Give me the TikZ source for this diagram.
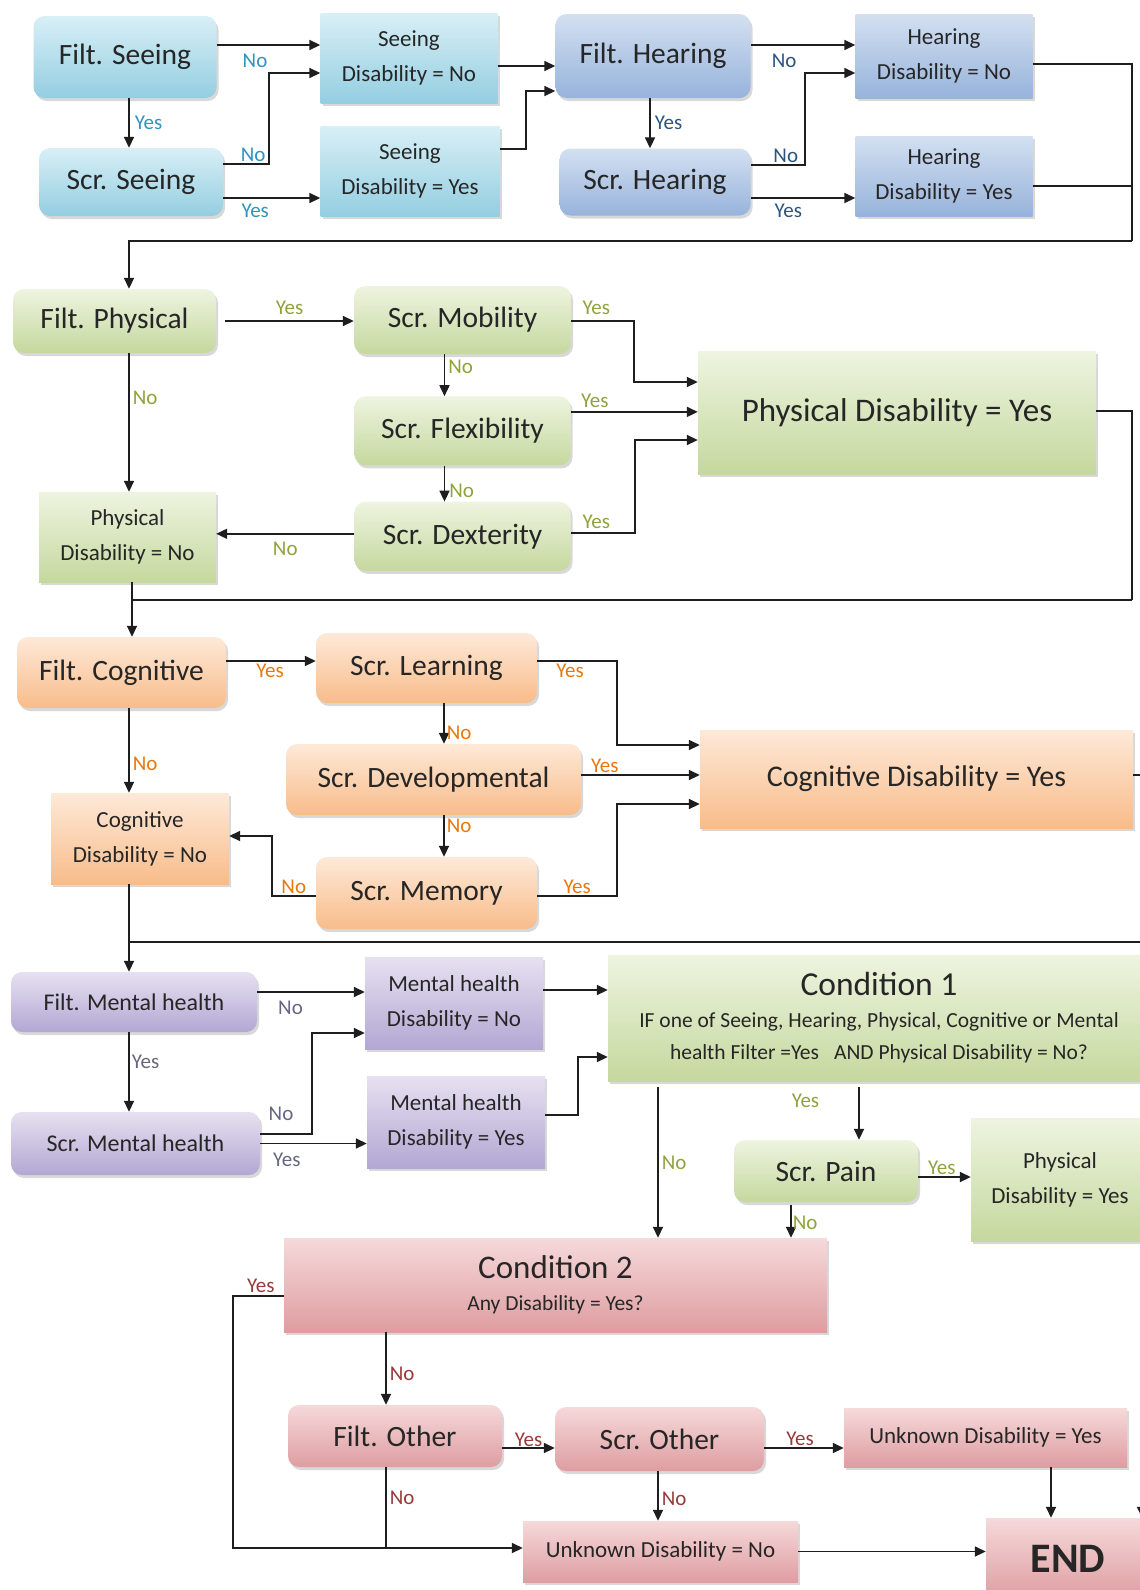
\documentclass[tikz,border=0pt]{standalone}
\usepackage{fontspec}
\setmainfont{Carlito}
\usepackage{tikz}
\usetikzlibrary{positioning,arrows.meta,shadows}
\definecolor{ink}{HTML}{262626}
\definecolor{inktwo}{HTML}{1E1E1E}
\definecolor{skylt}{HTML}{D8EFF6}
\definecolor{skydk}{HTML}{94CEE1}
\definecolor{navylt}{HTML}{D3E0F1}
\definecolor{navydk}{HTML}{97B3DB}
\definecolor{leaflt}{HTML}{EEF4E0}
\definecolor{leafdk}{HTML}{C5D89E}
\definecolor{peachlt}{HTML}{FEE9D8}
\definecolor{peachdk}{HTML}{F8BC8A}
\definecolor{lilaclt}{HTML}{E6E1F1}
\definecolor{lilacdk}{HTML}{B3A7D3}
\definecolor{roselt}{HTML}{F6D9DA}
\definecolor{rosedk}{HTML}{DE9DA1}
\definecolor{skytxt}{HTML}{2E94C0}
\definecolor{navytxt}{HTML}{2B557E}
\definecolor{olivetxt}{HTML}{8FA33C}
\definecolor{orngtxt}{HTML}{E8780E}
\definecolor{plumtxt}{HTML}{666680}
\definecolor{bricktxt}{HTML}{99393A}
\tikzset{
  wh/.style 2 args={minimum width=#1pt,minimum height=#2pt},
  filtbox/.style={rounded corners=11pt,top color=#1lt,bottom color=#1dk,text=ink,inner sep=2pt,
                  font=\fontsize{29.5}{32}\selectfont,
                  drop shadow={shadow xshift=2pt,shadow yshift=-3pt,opacity=.3}},
  resbox/.style={top color=#1lt,bottom color=#1dk,text=ink,inner sep=2pt,align=center,
                 font=\fontsize{23}{35}\selectfont,
                 drop shadow={shadow xshift=2pt,shadow yshift=-3pt,opacity=.3}},
  flow/.style={-{Triangle[length=11pt,width=10pt]},draw=inktwo,line width=1.7pt},
  link/.style={draw=inktwo,line width=1.7pt},
  yn/.style={font=\fontsize{21}{22}\selectfont,text=#1,inner sep=1pt},
}
\begin{document}
\begin{tikzpicture}[x=1pt,y=-1pt]
  \fill[white] (0,0) rectangle (1140,1590);
  \useasboundingbox (0,0) rectangle (1140,1590);
  % seeing and hearing
  \node[filtbox=sky, wh={183}{82}] (fseeing) at (125,57) {Filt. Seeing};
  \node[filtbox=sky, wh={184}{68}] (sseeing) at (131,182) {Scr. Seeing};
  \node[resbox=sky, wh={177}{90}] (seeno) at (409,58) {Seeing\\ Disability = No};
  \node[resbox=sky, wh={179}{90}] (seeyes) at (410,171) {Seeing\\ Disability = Yes};
  \node[filtbox=navy, wh={195}{84}] (fhearing) at (653,56) {Filt. Hearing};
  \node[filtbox=navy, wh={191}{67}] (shearing) at (655,182) {Scr. Hearing};
  \node[resbox=navy, wh={177}{84}] (hearno) at (944,56) {Hearing\\ Disability = No};
  \node[resbox=navy, wh={177}{80}] (hearyes) at (944,176) {Hearing\\ Disability = Yes};
  % physical
  \node[filtbox=leaf, wh={203}{64}] (fphysical) at (114.5,321) {Filt. Physical};
  \node[filtbox=leaf, wh={217}{68}] (smobility) at (462.5,320) {Scr. Mobility};
  \node[filtbox=leaf, wh={216}{69}, below=42pt of smobility] (sflex) {Scr. Flexibility};
  \node[filtbox=leaf, wh={216}{69}, below=36pt of sflex] (sdex) {Scr. Dexterity};
  \node[resbox=leaf, wh={177}{90}] (physno) at (127.5,537) {Physical\\ Disability = No};
  \node[resbox=leaf, wh={398}{123}, font=\fontsize{33}{36}\selectfont] (physyes) at (897,412.5) {Physical Disability = Yes};
  % cognitive
  \node[filtbox=peach, wh={209}{71}] (fcognitive) at (121.5,672.5) {Filt. Cognitive};
  \node[filtbox=peach, wh={221}{70}] (slearn) at (426.5,668) {Scr. Learning};
  \node[filtbox=peach, wh={295}{71}] (sdev) at (433.5,779.5) {Scr. Developmental};
  \node[filtbox=peach, wh={221}{72}] (smem) at (426.5,893) {Scr. Memory};
  \node[resbox=peach, wh={178}{91}] (cogno) at (140,838.5) {Cognitive\\ Disability = No};
  \node[resbox=peach, wh={433}{98}, font=\fontsize{30}{33}\selectfont] (cogyes) at (916.5,779) {Cognitive Disability = Yes};
  % mental health and condition 1
  \node[filtbox=lilac, wh={246}{60}, font=\fontsize{24}{26}\selectfont] (fmental) at (134,1002) {Filt. Mental health};
  \node[filtbox=lilac, wh={249}{63}, font=\fontsize{24}{26}\selectfont] (smental) at (135.5,1143.5) {Scr. Mental health};
  \node[resbox=lilac, wh={178}{92}] (mhno) at (454,1003) {Mental health\\ Disability = No};
  \node[resbox=lilac, wh={178}{92}] (mhyes) at (456,1122) {Mental health\\ Disability = Yes};
  \node[resbox=leaf, wh={542}{126}, font=\fontsize{21.5}{32}\selectfont] (cond1) at (879,1018)
     {{\fontsize{33.5}{36}\selectfont Condition 1}\\ IF one of Seeing, Hearing, Physical, Cognitive or Mental\\
      health Filter =Yes\hspace{.7em}AND Physical Disability = No?};
  \node[filtbox=leaf, wh={184}{62}] (spain) at (826,1171) {Scr. Pain};
  \node[resbox=leaf, wh={178}{123}] (physyes2) at (1060,1179.5) {Physical\\ Disability = Yes};
  % condition 2 and other
  \node[resbox=rose, wh={543}{94}, font=\fontsize{21.5}{26}\selectfont] (cond2) at (555.5,1285)
     {{\fontsize{33}{36}\selectfont Condition 2}\\[6pt] Any Disability = Yes?};
  \node[filtbox=rose, wh={214}{62}] (fother) at (395,1436) {Filt. Other};
  \node[filtbox=rose, wh={209}{64}] (sother) at (659.5,1439) {Scr. Other};
  \node[resbox=rose, wh={283}{59}] (unkyes) at (985.5,1437.5) {Unknown Disability = Yes};
  \node[resbox=rose, wh={275}{61}] (unkno) at (660.5,1551.5) {Unknown Disability = No};
  \node[resbox=rose, wh={164}{82}, font=\bfseries\fontsize{42}{44}\selectfont] (endn) at (1068,1559) {END};
  % joints of the long lines
  \coordinate (r1) at (1132,241);
  \coordinate (r2) at (1132,600);
  \coordinate (r3) at (1152,942);
  \coordinate (lowline) at ([yshift=3.5pt]unkno.west);
  % arrows, seeing and hearing
  \draw[flow] ([yshift=12pt]fseeing.east) -- node[yn=skytxt, below=7pt, pos=.37] {No} ([yshift=12pt]fseeing.east -| seeno.west);
  \draw[flow] ([yshift=18pt]sseeing.east) -- node[yn=skytxt, above=1pt, pos=.65] {No} ++(46,0) |- ([yshift=-15pt]seeno.west);
  \draw[flow] ([yshift=-16pt]sseeing.east) -- node[yn=skytxt, below=4pt, pos=.33] {Yes} ([yshift=-16pt]sseeing.east -| seeyes.west);
  \draw[flow] ([xshift=4pt]fseeing.south) -- node[yn=skytxt, right=4pt] {Yes} ([xshift=4pt]fseeing.south |- sseeing.north);
  \draw[flow] ([yshift=-8pt]seeno.east) -- ([yshift=-8pt]seeno.east -| fhearing.west);
  \draw[flow] ([yshift=22pt]seeyes.east) -- ++(26,0) |- ([yshift=-35pt]fhearing.west);
  \draw[flow] ([yshift=11pt]fhearing.east) -- node[yn=navytxt, below=7pt, pos=.32] {No} ([yshift=11pt]fhearing.east -| hearno.west);
  \draw[flow] ([yshift=17pt]shearing.east) -- node[yn=navytxt, above=1pt, pos=.65] {No} ++(54,0) |- ([yshift=-17pt]hearno.west);
  \draw[flow] ([yshift=-16pt]shearing.east) -- node[yn=navytxt, below=4pt, pos=.36] {Yes} ([yshift=-16pt]shearing.east -| hearyes.west);
  \draw[flow] ([xshift=-3pt]fhearing.south) -- node[yn=navytxt, right=3pt] {Yes} ([xshift=-3pt]fhearing.south |- shearing.north);
  \draw[link] ([yshift=-8pt]hearno.east) -| (r1);
  \draw[link] ([yshift=-10pt]hearyes.east) -- ([yshift=-10pt]hearyes.east -| r1);
  \draw[flow] (r1) -| ([xshift=14.5pt]fphysical.north);
  % arrows, physical
  \draw[flow] ([xshift=9pt]fphysical.east) -- node[yn=olivetxt, above=5pt] {Yes} (fphysical.east -| smobility.west);
  \draw[flow] ([xshift=14.5pt]fphysical.south) -- node[yn=olivetxt, right=2pt, pos=.32] {No} ([xshift=14.5pt]fphysical.south |- physno.north);
  \draw[flow] ([xshift=-18pt]smobility.south) -- node[yn=olivetxt, right=2pt, pos=.3] {No} ([xshift=-18pt]smobility.south |- sflex.north);
  \draw[flow] ([xshift=-18pt]sflex.south) -- node[yn=olivetxt, right=3pt, pos=.7] {No} ([xshift=-18pt]sflex.south |- sdex.north);
  \draw[flow] ([yshift=2.5pt]sdex.west) -- node[yn=olivetxt, below=6pt] {No} ([yshift=2.5pt]sdex.west -| physno.east);
  \draw[flow] ([yshift=-1pt]smobility.east) -- node[yn=olivetxt, above=4pt, pos=.4] {Yes} ++(63,0) |- ([yshift=30.5pt]physyes.west);
  \draw[flow] ([yshift=19pt]sflex.east) -- node[yn=olivetxt, above=2pt, pos=.19] {Yes} ([yshift=19pt]sflex.east -| physyes.west);
  \draw[flow] ([yshift=3.5pt]sdex.east) -- node[yn=olivetxt, above=2pt, pos=.4] {Yes} ++(64,0) |- ([yshift=-27.5pt]physyes.west);
  \draw[link] ([yshift=1.5pt]physyes.east) -| (r2);
  \draw[link] (r2) -- ([xshift=4.5pt]physno.south |- r2);
  \draw[flow] ([xshift=4.5pt]physno.south) -- ([xshift=4.5pt]physno.south |- fcognitive.north);
  % arrows, cognitive
  \draw[flow] ([yshift=11.5pt]fcognitive.east) -- node[yn=orngtxt, below=1pt, pos=.49] {Yes} ([yshift=11.5pt]fcognitive.east -| slearn.west);
  \draw[flow] ([xshift=7.5pt]fcognitive.south) -- node[yn=orngtxt, right=2pt, pos=.66] {No} ([xshift=7.5pt]fcognitive.south |- cogno.north);
  \draw[flow] ([xshift=17.5pt]slearn.south) -- node[yn=orngtxt, right=1pt, pos=.73] {No} ([xshift=17.5pt]slearn.south |- sdev.north);
  \draw[flow] ([xshift=10.5pt]sdev.south) -- node[yn=orngtxt, right=1pt, pos=.26] {No} ([xshift=10.5pt]sdev.south |- smem.north);
  \draw[flow] ([yshift=-3pt]smem.west) -- node[yn=orngtxt, above=1pt, pos=.5] {No} ++(-44,0) |- ([yshift=2.5pt]cogno.east);
  \draw[flow] ([yshift=7pt]slearn.east) -- node[yn=orngtxt, below=1pt, pos=.41] {Yes} ++(80,0) |- ([yshift=34pt]cogyes.west);
  \draw[flow] ([yshift=4.5pt]sdev.east) -- node[yn=orngtxt, above=1pt, pos=.2] {Yes} ([yshift=4.5pt]sdev.east -| cogyes.west);
  \draw[flow] ([yshift=-3pt]smem.east) -- node[yn=orngtxt, above=1pt, pos=.5] {Yes} ++(80,0) |- ([yshift=-25pt]cogyes.west);
  \draw[link] ([yshift=4pt]cogyes.east) -| (r3);
  \draw[link] (r3) -- ([xshift=-11pt]cogno.south |- r3);
  \draw[flow] ([xshift=-11pt]cogno.south) -- ([xshift=-11pt]cogno.south |- fmental.north);
  % arrows, mental health and condition 1
  \draw[flow] ([yshift=10pt]fmental.east) -- node[yn=plumtxt, below=7pt, pos=.31] {No} ([yshift=10pt]fmental.east -| mhno.west);
  \draw[flow] ([xshift=-5pt]fmental.south) -- node[yn=plumtxt, right=1pt, pos=.37] {Yes} ([xshift=-5pt]fmental.south |- smental.north);
  \draw[flow] ([yshift=9.5pt]smental.east) -- node[yn=plumtxt, above=12pt, pos=.4] {No} ++(52,0) |- ([yshift=-30pt]mhno.west);
  \draw[flow] (smental.east) -- node[yn=plumtxt, below=8pt, pos=.25] {Yes} (smental.east -| mhyes.west);
  \draw[flow] ([yshift=13pt]mhno.east) -- ([yshift=13pt]mhno.east -| cond1.west);
  \draw[flow] ([yshift=7pt]mhyes.east) -- ++(33,0) |- ([yshift=-39pt]cond1.west);
  \draw[flow] ([xshift=-221pt,yshift=-6pt]cond1.south) -- node[yn=olivetxt, right=2pt, pos=.5] {No} ([xshift=-221pt]cond1.south |- cond2.north);
  \draw[flow] ([xshift=-20pt,yshift=-6pt]cond1.south) -- node[yn=olivetxt, left=38pt, pos=.25] {Yes} ([xshift=-20pt]cond1.south |- spain.north);
  \draw[flow] ([yshift=-6pt]spain.east) -- node[yn=olivetxt, above=1pt, pos=.45] {Yes} ([yshift=-6pt]spain.east -| physyes2.west);
  \draw[flow] ([xshift=-35pt,yshift=-3pt]spain.south) -- node[yn=olivetxt, right=0pt, pos=.55] {No} ([xshift=-35pt]spain.south |- cond2.north);
  \draw[flow] (physyes2.east) -| ([xshift=74pt]endn.north);
  % arrows, condition 2 and other
  \draw[flow] ([xshift=-9pt]fother.north |- cond2.south) -- node[yn=bricktxt, right=2pt, pos=.58] {No} ([xshift=-9pt]fother.north);
  \draw[flow] ([yshift=-11pt]cond2.west) -- node[yn=bricktxt, above=2pt, pos=.45] {Yes} ++(-51,0) |- (lowline);
  \draw[link] ([xshift=-9pt]fother.south) -- node[yn=bricktxt, right=2pt, pos=.38] {No} ([xshift=-9pt]fother.south |- lowline);
  \draw[flow] ([yshift=-12pt]fother.east) -- node[yn=bricktxt, above=0pt, pos=.5] {Yes} ([yshift=-12pt]fother.east -| sother.west);
  \draw[flow] ([yshift=-9pt]sother.east) -- node[yn=bricktxt, above=1pt, pos=.45] {Yes} ([yshift=-9pt]sother.east -| unkyes.west);
  \draw[flow] ([xshift=-1.5pt]sother.south) -- node[yn=bricktxt, right=2pt, pos=.55] {No} ([xshift=-1.5pt]sother.south |- unkno.north);
  \draw[flow] ([xshift=65.5pt]unkyes.south) -- ([xshift=65.5pt]unkyes.south |- endn.north);
  \draw[flow] (unkno.east) -- (unkno.east -| endn.west);
\end{tikzpicture}
\end{document}
